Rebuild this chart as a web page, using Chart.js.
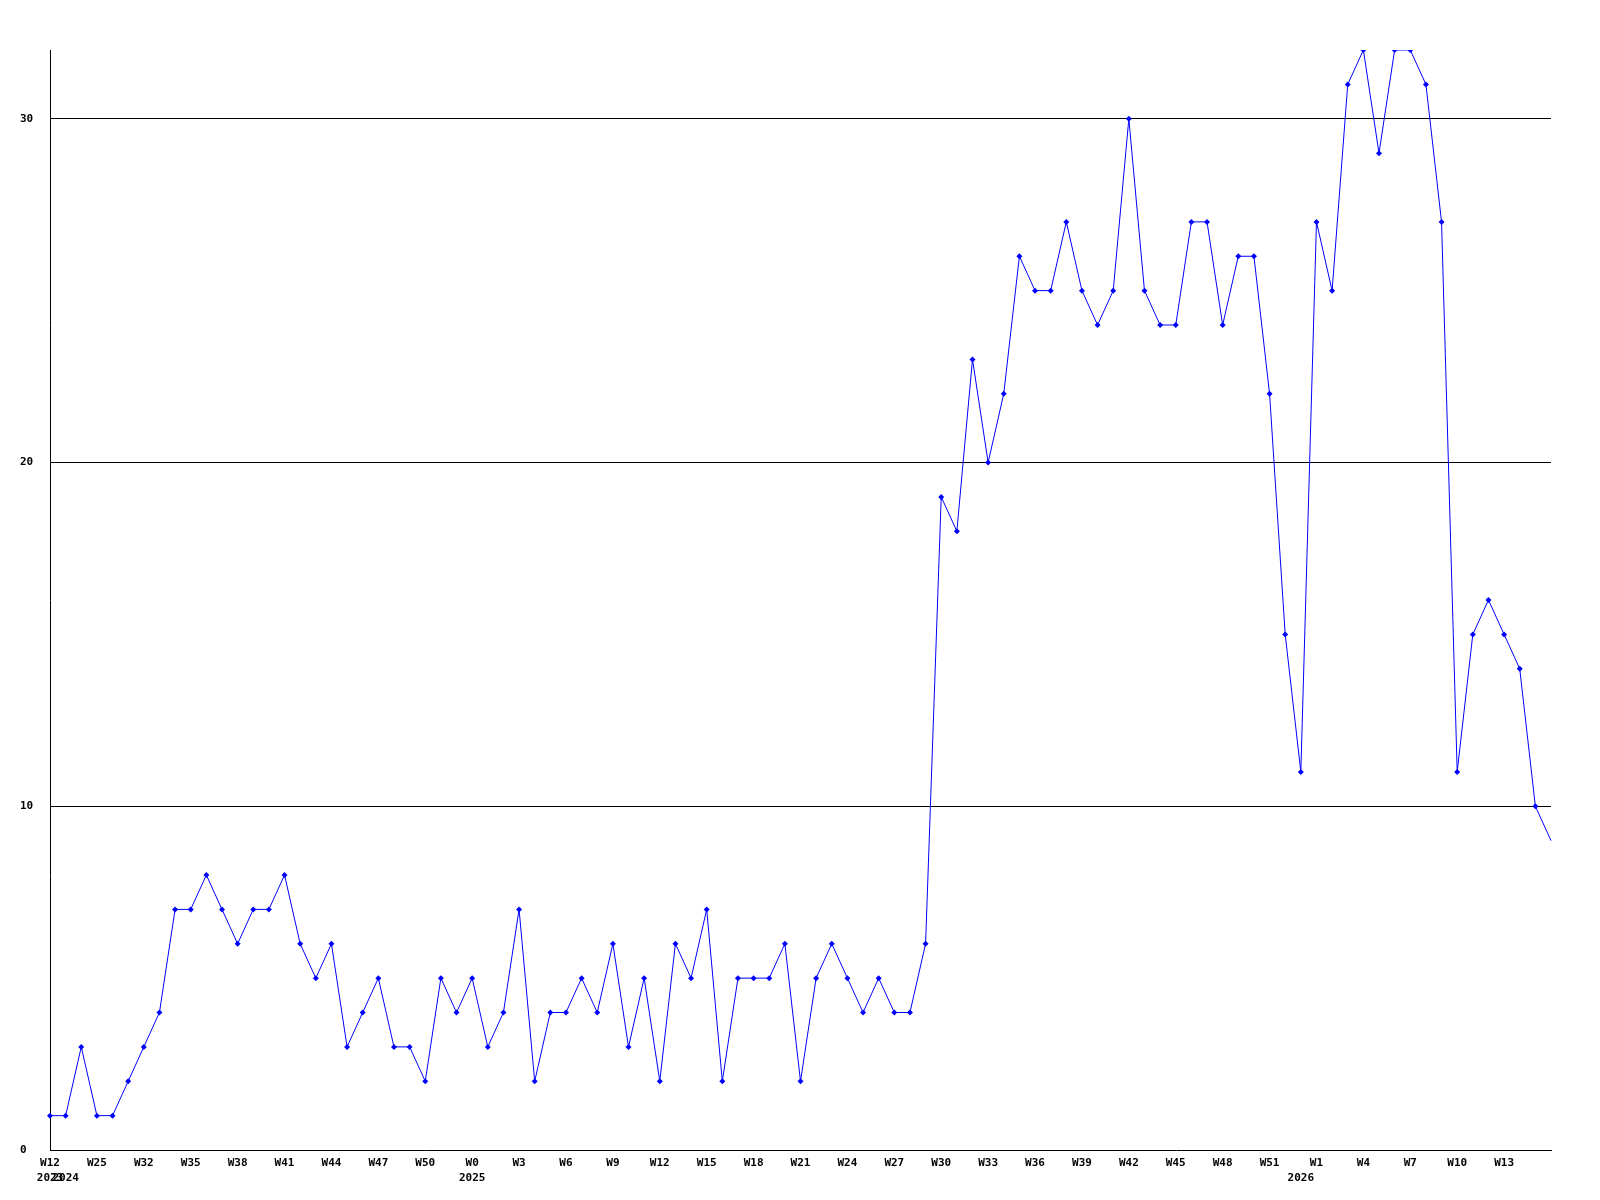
<!DOCTYPE html>
<html>
<head>
<meta charset="utf-8">
<script src="https://cdn.jsdelivr.net/npm/chart.js@4"></script>
<style>
  body { margin: 0; background: #fff; }
  #chart { display: block; }
</style>
</head>
<body>
<canvas id="chart" width="1600" height="1200"></canvas>
<script>
// semaines (une par point)
const weeks = [
  'W12', 'W19', 'W22', 'W25', 'W27', 'W30',
  'W32', 'W33', 'W34', 'W35', 'W36', 'W37', 'W38', 'W39', 'W40', 'W41', 'W42',
  'W43', 'W44', 'W45', 'W46', 'W47', 'W48', 'W49', 'W50', 'W51', 'W52',
  'W0', 'W1', 'W2', 'W3', 'W4', 'W5', 'W6', 'W7', 'W8', 'W9', 'W10', 'W11', 'W12',
  'W13', 'W14', 'W15', 'W16', 'W17', 'W18', 'W19', 'W20', 'W21', 'W22', 'W23',
  'W24', 'W25', 'W26', 'W27', 'W28', 'W29', 'W30', 'W31', 'W32', 'W33', 'W34',
  'W35', 'W36', 'W37', 'W38', 'W39', 'W40', 'W41', 'W42', 'W43', 'W44', 'W45',
  'W46', 'W47', 'W48', 'W49', 'W50', 'W51', 'W52',
  'W0', 'W1', 'W2', 'W3', 'W4', 'W5', 'W6', 'W7', 'W8', 'W9', 'W10', 'W11', 'W12',
  'W13', 'W14', 'W15', 'W16'
];

// année affichée sous la première semaine de chaque année
const years = {0: '2023', 1: '2024', 27: '2025', 80: '2026'};

const values = [
  1, 1, 3, 1, 1, 2, 3, 4, 7, 7,
  8, 7, 6, 7, 7, 8, 6, 5, 6, 3,
  4, 5, 3, 3, 2, 5, 4, 5, 3, 4,
  7, 2, 4, 4, 5, 4, 6, 3, 5, 2,
  6, 5, 7, 2, 5, 5, 5, 6, 2, 5,
  6, 5, 4, 5, 4, 4, 6, 19, 18, 23,
  20, 22, 26, 25, 25, 27, 25, 24, 25, 30,
  25, 24, 24, 27, 27, 24, 26, 26, 22, 15,
  11, 27, 25, 31, 32, 29, 32, 32, 31, 27,
  11, 15, 16, 15, 14, 10, 9
];

const yTicks = [0, 10, 20, 30];

const tickFont = { family: 'DejaVu Sans Mono', size: 11, weight: 'bold', lineHeight: 1.35 };

new Chart(document.getElementById('chart').getContext('2d'), {
  type: 'line',
  data: {
    labels: weeks,
    datasets: [{
      data: values,
      borderColor: '#0000ff',
      backgroundColor: '#0000ff',
      borderWidth: 1,
      tension: 0,
      pointStyle: 'rectRot',
      pointRadius: ctx => ctx.dataIndex === values.length - 1 ? 0 : 3,
      pointBorderWidth: 0
    }]
  },
  options: {
    responsive: false,
    animation: false,
    layout: { padding: { left: 20, top: 50, right: 49, bottom: 0 } },
    plugins: { legend: { display: false }, tooltip: { enabled: false } },
    scales: {
      x: {
        grid: { display: false },
        border: { display: true, color: '#000', width: 1 },
        afterFit: s => { s.height = 50; },
        ticks: {
          autoSkip: false,
          maxRotation: 0,
          minRotation: 0,
          padding: -2,
          color: '#000',
          font: tickFont,
          callback: (v, i) => {
            const w = (i % 3 === 0 && i < values.length - 1) ? weeks[i] : '';
            return years[i] ? [w, years[i]] : w;
          }
        }
      },
      y: {
        min: 0,
        max: 32,
        afterFit: s => { s.width = 30; },
        afterBuildTicks: s => { s.ticks = yTicks.map(v => ({ value: v })); },
        grid: {
          color: ctx => ctx.tick && ctx.tick.value === 0 ? 'rgba(0,0,0,0)' : '#000',
          lineWidth: 1,
          drawTicks: false
        },
        border: { display: true, color: '#000', width: 1 },
        ticks: {
          crossAlign: 'far',
          padding: 0,
          color: '#000',
          font: tickFont
        }
      }
    }
  }
});
</script>
</body>
</html>
